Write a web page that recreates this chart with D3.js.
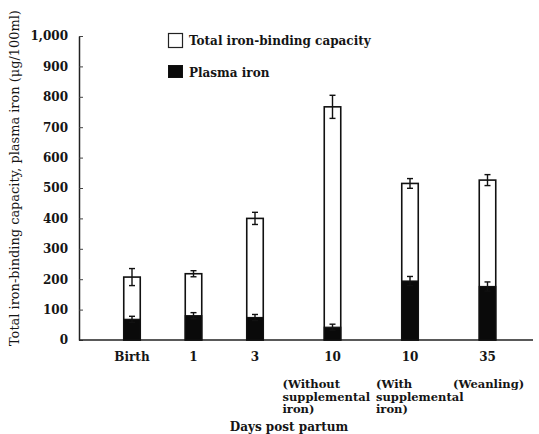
<!DOCTYPE html>
<html>
<head>
<meta charset="utf-8">
<script src="https://cdn.jsdelivr.net/npm/d3@7"></script>
<style>
  html, body { margin: 0; padding: 0; background: #fff; }
  svg { display: block; }
  text { font-family: "DejaVu Serif", "Liberation Serif", serif; font-weight: bold; fill: #151515; }
</style>
</head>
<body>
<svg id="chart" width="539" height="434"></svg>
<script>
// Categories (days post partum) and their explanatory sub-labels
const categories = ["Birth", "1", "3", "10", "10", "35"];
const subLabels = [
  [], [], [],
  ["(Without", "supplemental", "iron)"],
  ["(With", "supplemental", "iron)"],
  ["(Weanling)"]
];

// Total iron-binding capacity (µg/100ml) with error
const tibc = [207, 218, 400, 767, 515, 526];
const tibcErr = [28, 10, 20, 38, 16, 18];

// Plasma iron (µg/100ml) with error
const plasmaIron = [68, 80, 74, 42, 194, 176];
const plasmaErr = [10, 10, 10, 10, 15, 15];

const yTicks = [0, 100, 200, 300, 400, 500, 600, 700, 800, 900, 1000];

const FONT = '"DejaVu Serif", "Liberation Serif", serif';
const svg = d3.select("#chart");

// Slot positions: first three timepoints are spaced tighter than the last three
const x = d3.scaleLinear().domain([0, 2, 5]).range([132, 255, 487.5]);
const y = d3.scaleLinear().domain([0, 1000]).range([340, 36]);
const barW = 16.5;

// Y axis
const yAxis = d3.axisLeft(y)
  .tickValues(yTicks)
  .tickFormat(d3.format(","))
  .tickSizeInner(-4)
  .tickSizeOuter(0)
  .tickPadding(11);

const gy = svg.append("g").attr("transform", "translate(79,0)").call(yAxis);
gy.select(".domain").attr("stroke", "#222").attr("stroke-width", 1.5);
gy.selectAll(".tick line").attr("stroke", "#444").attr("stroke-width", 1);
gy.selectAll(".tick text")
  .style("font-family", FONT)
  .style("font-weight", "bold")
  .style("font-size", "12px")
  .attr("fill", "#151515");

// X axis baseline
svg.append("line")
  .attr("x1", 79).attr("x2", 533)
  .attr("y1", y(0)).attr("y2", y(0))
  .attr("stroke", "#222").attr("stroke-width", 1.5);

// Y axis title, sized to run from the bottom of the axis to the top edge
const yTitle = svg.append("text")
  .attr("transform", "translate(19,346) rotate(-90)")
  .attr("text-anchor", "start")
  .style("font-weight", "normal")
  .style("font-size", "12px")
  .text("Total iron-binding capacity, plasma iron (\u03bcg/100ml)");
const titleLen = yTitle.node().getComputedTextLength();
yTitle.style("font-size", (12 * 336 / titleLen).toFixed(2) + "px");

const idx = d3.range(categories.length);

// Total iron-binding capacity bars (open)
svg.append("g").selectAll("rect")
  .data(idx)
  .join("rect")
  .attr("x", i => x(i) - barW / 2)
  .attr("y", i => y(tibc[i]))
  .attr("width", barW)
  .attr("height", i => y(0) - y(tibc[i]))
  .attr("fill", "#fff")
  .attr("stroke", "#111")
  .attr("stroke-width", 1.6);

// Plasma iron bars (solid)
svg.append("g").selectAll("rect")
  .data(idx)
  .join("rect")
  .attr("x", i => x(i) - barW / 2)
  .attr("y", i => y(plasmaIron[i]))
  .attr("width", barW)
  .attr("height", i => y(0) - y(plasmaIron[i]))
  .attr("fill", "#0a0a0a")
  .attr("stroke", "#111")
  .attr("stroke-width", 1.2);

// Error bars
function errorBars(vals, errs, cls) {
  const g = svg.append("g").attr("class", cls)
    .attr("stroke", "#111").attr("stroke-width", 1.4);
  g.selectAll("line.v").data(idx).join("line").attr("class", "v")
    .attr("x1", i => x(i)).attr("x2", i => x(i))
    .attr("y1", i => y(vals[i] - errs[i])).attr("y2", i => y(vals[i] + errs[i]));
  g.selectAll("line.t").data(idx).join("line").attr("class", "t")
    .attr("x1", i => x(i) - 3).attr("x2", i => x(i) + 3)
    .attr("y1", i => y(vals[i] + errs[i])).attr("y2", i => y(vals[i] + errs[i]));
  g.selectAll("line.b").data(idx).join("line").attr("class", "b")
    .attr("x1", i => x(i) - 3).attr("x2", i => x(i) + 3)
    .attr("y1", i => y(vals[i] - errs[i])).attr("y2", i => y(vals[i] - errs[i]));
}
errorBars(tibc, tibcErr, "err-tibc");
errorBars(plasmaIron, plasmaErr, "err-plasma");

// Category labels
svg.append("g").selectAll("text")
  .data(idx)
  .join("text")
  .attr("x", i => x(i))
  .attr("y", 360.5)
  .attr("text-anchor", "middle")
  .style("font-size", "12px")
  .text(i => categories[i]);

// Sub-labels, left-aligned blocks under the day labels
const subOffset = [0, 0, 0, -50, -34, -34.5];
const sub = svg.append("g");
idx.forEach(i => {
  subLabels[i].forEach((line, k) => {
    sub.append("text")
      .attr("x", x(i) + subOffset[i])
      .attr("y", 388 + k * 12.5)
      .attr("text-anchor", "start")
      .style("font-size", "11.5px")
      .text(line);
  });
});

// X axis title
svg.append("text")
  .attr("x", 289).attr("y", 430.5)
  .attr("text-anchor", "middle")
  .style("font-size", "12px")
  .text("Days post partum");

// Legend
const legend = svg.append("g");
legend.append("rect").attr("x", 168.5).attr("y", 33.5).attr("width", 14).attr("height", 14)
  .attr("fill", "#fff").attr("stroke", "#222").attr("stroke-width", 1.2);
legend.append("text").attr("x", 189).attr("y", 45).style("font-size", "12px")
  .text("Total iron-binding capacity");
legend.append("rect").attr("x", 168.5).attr("y", 65.5).attr("width", 14).attr("height", 12)
  .attr("fill", "#0a0a0a").attr("stroke", "#111").attr("stroke-width", 1);
legend.append("text").attr("x", 189).attr("y", 77).style("font-size", "12px")
  .text("Plasma iron");
</script>
</body>
</html>
